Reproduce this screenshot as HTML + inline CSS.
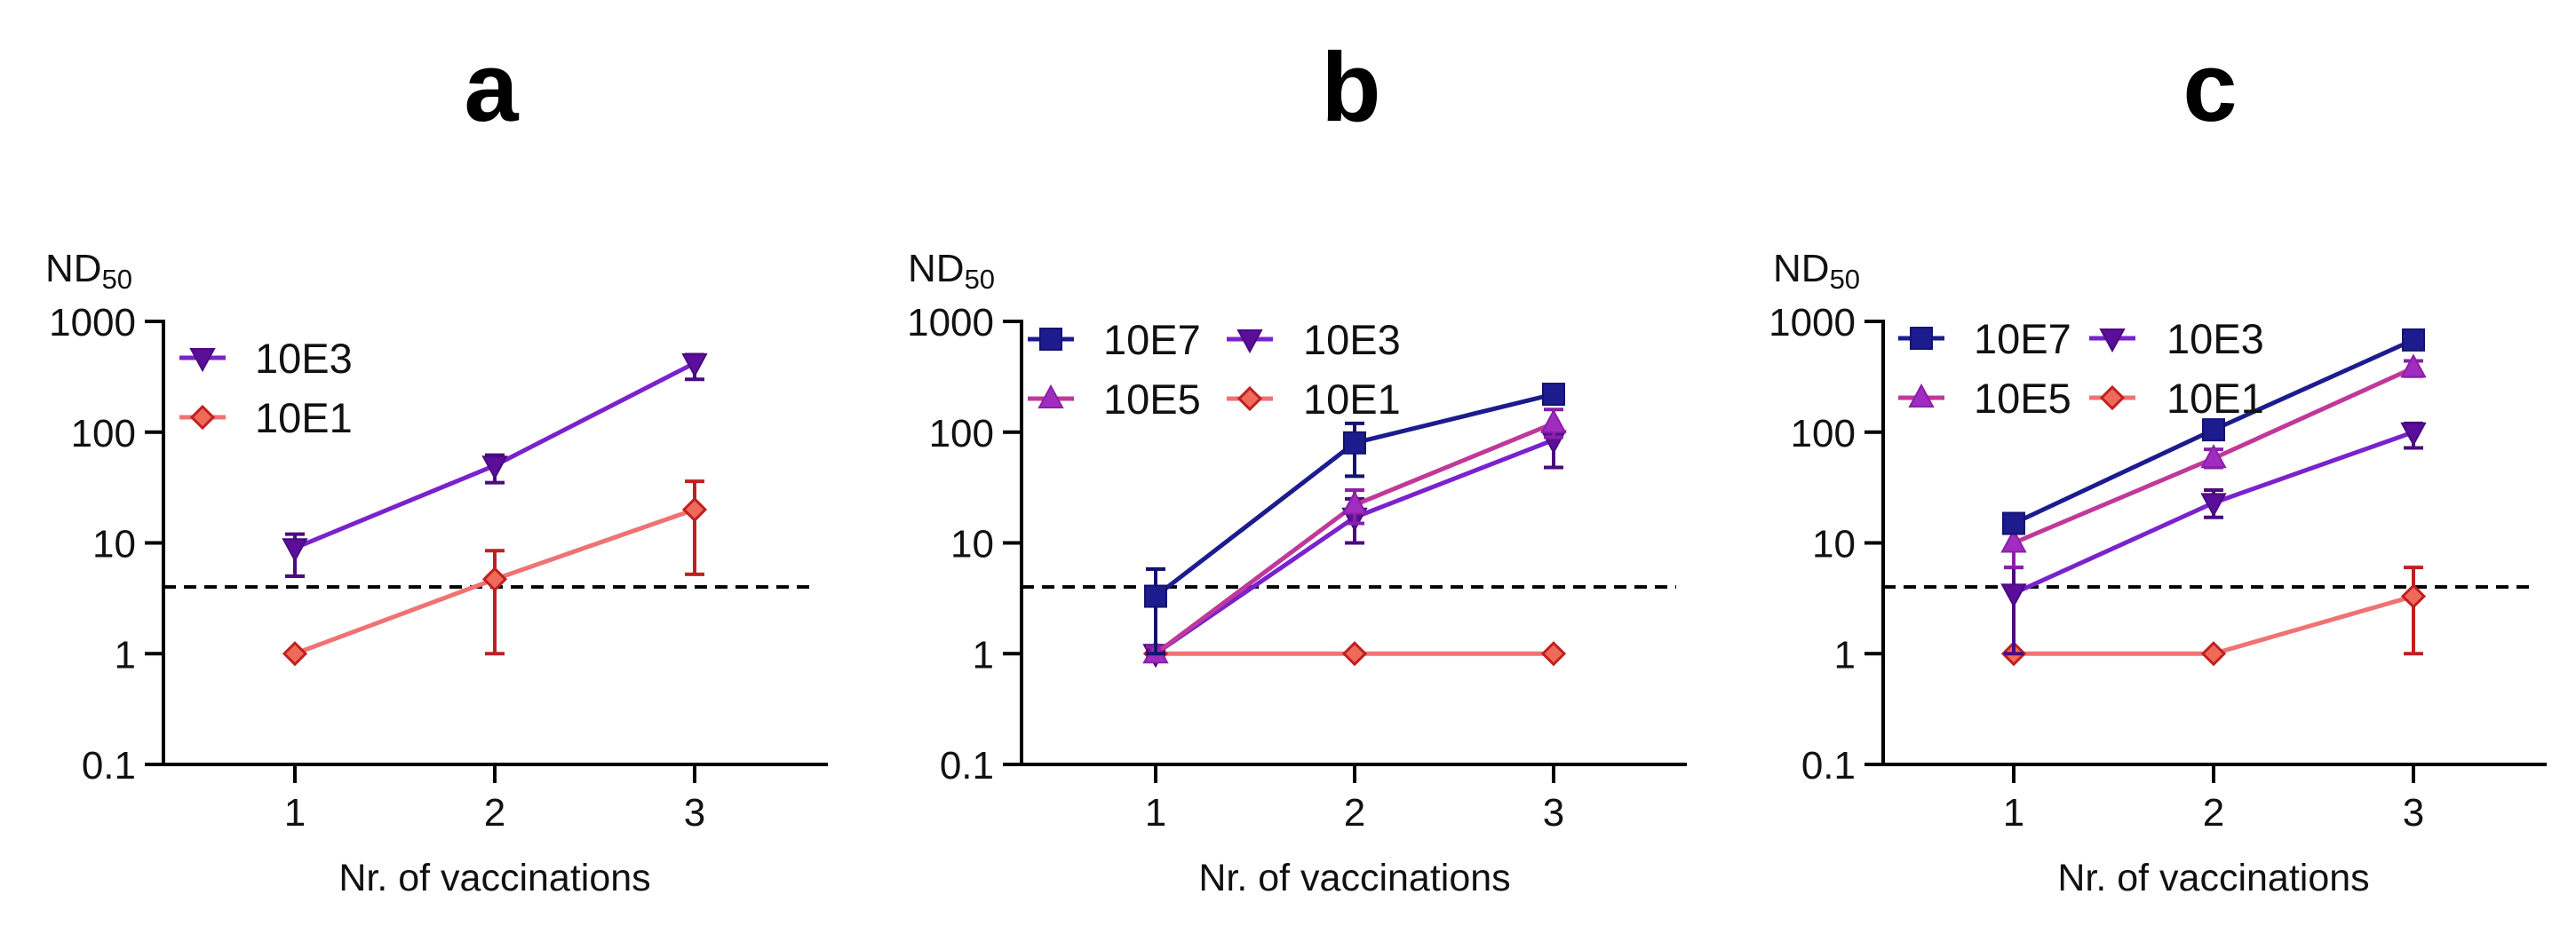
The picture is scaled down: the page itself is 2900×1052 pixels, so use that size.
<!DOCTYPE html>
<html><head><meta charset="utf-8"><style>
html,body{margin:0;padding:0;background:#fff;}
svg{display:block;font-family:"Liberation Sans",Arial,sans-serif;}
</style></head><body>
<svg id="fig" width="2900" height="1052" viewBox="0 0 2900 1052" xmlns="http://www.w3.org/2000/svg"></svg>
<script>
// ---- data ----
const categories = [1, 2, 3];
const yTickValues = [0.1, 1, 10, 100, 1000];
const yTickLabels = ["0.1", "1", "10", "100", "1000"];
const threshold = 4;
// panel a
const a_10E3 = [9, 50, 420];
const a_10E3_lo = [5, 35, 300];
const a_10E3_hi = [12, 62, 500];
const a_10E1 = [1, 4.7, 20];
const a_10E1_lo = [1, 1, 5.2];
const a_10E1_hi = [1, 8.5, 36];
// panel b
const b_10E7 = [3.3, 80, 220];
const b_10E7_lo = [1, 40, 200];
const b_10E7_hi = [5.8, 120, 250];
const b_10E5 = [1, 22, 120];
const b_10E5_lo = [0.85, 15, 90];
const b_10E5_hi = [1.15, 30, 160];
const b_10E3 = [1, 17, 85];
const b_10E3_lo = [0.9, 10, 48];
const b_10E3_hi = [1.1, 25, 100];
const b_10E1 = [1, 1, 1];
// panel c
const c_10E7 = [15, 105, 680];
const c_10E5 = [10, 58, 380];
const c_10E5_lo = [6, 48, 320];
const c_10E5_hi = [13, 70, 440];
const c_10E3 = [3.5, 23, 100];
const c_10E3_lo = [1, 17, 72];
const c_10E3_hi = [6, 30, 120];
const c_10E1 = [1, 1, 3.3];
const c_10E1_lo = [1, 1, 1];
const c_10E1_hi = [1, 1, 6];

const NS = "http://www.w3.org/2000/svg";
const svg = document.getElementById("fig");
function mk(tag, attrs, parent, text) {
  const e = document.createElementNS(NS, tag);
  for (const k in attrs) e.setAttribute(k, attrs[k]);
  if (text !== undefined) e.textContent = text;
  (parent || svg).appendChild(e);
  return e;
}
const STY = {
  "10E7": {line: "#1c1c8e", fill: "#1c1c8e", stroke: "#14146e", marker: "square"},
  "10E5": {line: "#c0399a", fill: "#a02cc0", stroke: "#8a1fa8", marker: "up"},
  "10E3": {line: "#7a22cc", fill: "#5a0e9a", stroke: "#4a0a80", marker: "down"},
  "10E1": {line: "#f07272", fill: "#f06a5a", stroke: "#c02020", marker: "diamond"}
};
function marker(g, type, x, y, s, name) {
  let e;
  if (type === "square") e = mk("rect", {x: x - 12, y: y - 12, width: 24, height: 24, fill: s.fill, stroke: s.stroke, "stroke-width": 2}, g);
  else if (type === "up") e = mk("polygon", {points: `${x},${y - 14} ${x + 13},${y + 10} ${x - 13},${y + 10}`, fill: s.fill, stroke: s.stroke, "stroke-width": 2}, g);
  else if (type === "down") e = mk("polygon", {points: `${x - 13},${y - 10} ${x + 13},${y - 10} ${x},${y + 14}`, fill: s.fill, stroke: s.stroke, "stroke-width": 2}, g);
  else e = mk("polygon", {points: `${x},${y - 12} ${x + 12},${y} ${x},${y + 12} ${x - 12},${y}`, fill: s.fill, stroke: s.stroke, "stroke-width": 3}, g);
  
  
}
function panel(cfg) {
  const g = mk("g", {});
  
  
  const ax = cfg.axisX, y0 = 861, y1000 = 362;
  const dec = (y0 - y1000) / 4;
  const ys = v => y0 - (Math.log10(v) + 1) * dec;
  const xs = c => cfg.tick1 + (c - 1) * cfg.step;
  const right = xs(3) + 150;
  const t = mk("text", {x: xs(2) - 4, y: 136, "font-size": 110, "font-weight": "bold", "text-anchor": "middle", fill: "#000"}, g, cfg.letter);
   
  const nd = mk("text", {x: cfg.ndX, y: 317, "font-size": 44, fill: "#111"}, g);
   
  mk("tspan", {}, nd, "ND");
  mk("tspan", {"font-size": 31, dy: 8}, nd, "50");
  const yl = mk("line", {x1: ax, y1: y1000 - 2, x2: ax, y2: y0 + 2, stroke: "#000", "stroke-width": 4}, g);
   
  const xl = mk("line", {x1: ax - 21, y1: y0, x2: right, y2: y0, stroke: "#000", "stroke-width": 4}, g);
   
  yTickValues.forEach((v, i) => {
    mk("line", {x1: ax - 21, y1: ys(v), x2: ax, y2: ys(v), stroke: "#000", "stroke-width": 4}, g);
    const tl = mk("text", {x: ax - 31, y: ys(v) + 16, "font-size": 44, "text-anchor": "end", fill: "#111"}, g, yTickLabels[i]);
     
  });
  categories.forEach(c => {
    mk("line", {x1: xs(c), y1: y0, x2: xs(c), y2: y0 + 21, stroke: "#000", "stroke-width": 4}, g);
    const tl = mk("text", {x: xs(c), y: 930, "font-size": 44, "text-anchor": "middle", fill: "#111"}, g, String(c));
     
  });
  const xt = mk("text", {x: xs(2), y: 1003, "font-size": 43, "text-anchor": "middle", fill: "#111"}, g, "Nr. of vaccinations");
   
  const dl = mk("line", {x1: ax, y1: ys(threshold), x2: right - 12, y2: ys(threshold), stroke: "#000", "stroke-width": 4, "stroke-dasharray": "14 9"}, g);
   
  cfg.series.forEach(s => {
    const st = STY[s.name];
    const sg = mk("g", {}, g);
    
    
    if (s.lo) categories.forEach((c, i) => {
      const x = xs(c);
      mk("line", {x1: x, y1: ys(s.lo[i]), x2: x, y2: ys(s.hi[i]), stroke: st.stroke, "stroke-width": 4}, sg);
      mk("line", {x1: x - 11, y1: ys(s.lo[i]), x2: x + 11, y2: ys(s.lo[i]), stroke: st.stroke, "stroke-width": 4}, sg);
      mk("line", {x1: x - 11, y1: ys(s.hi[i]), x2: x + 11, y2: ys(s.hi[i]), stroke: st.stroke, "stroke-width": 4}, sg);
    });
    const pts = categories.map((c, i) => xs(c) + "," + ys(s.vals[i])).join(" ");
    const pl = mk("polyline", {points: pts, fill: "none", stroke: st.line, "stroke-width": 5}, sg);
     
    categories.forEach((c, i) => marker(sg, st.marker, xs(c), ys(s.vals[i]), st, 'point-' + s.name));
  });
  cfg.legend.forEach(l => {
    const st = STY[l.name];
    const lg = mk("g", {}, g);
    
    
    mk("line", {x1: l.mx - 26, y1: l.y, x2: l.mx + 26, y2: l.y, stroke: st.line, "stroke-width": 5}, lg);
    marker(lg, st.marker, l.mx, l.y, st, 'legend-marker');
    mk("text", {x: l.tx, y: l.y + 17, "font-size": 47, fill: "#111"}, lg, l.name);
  });
}
panel({letter: "a", axisX: 184, tick1: 332, step: 225, ndX: 51,
  series: [
    {name: "10E1", vals: a_10E1, lo: a_10E1_lo, hi: a_10E1_hi},
    {name: "10E3", vals: a_10E3, lo: a_10E3_lo, hi: a_10E3_hi}],
  legend: [{name: "10E3", mx: 228, tx: 287, y: 403}, {name: "10E1", mx: 228, tx: 287, y: 470}]});
panel({letter: "b", axisX: 1150, tick1: 1301, step: 224, ndX: 1022,
  series: [
    {name: "10E1", vals: b_10E1},
    {name: "10E3", vals: b_10E3, lo: b_10E3_lo, hi: b_10E3_hi},
    {name: "10E5", vals: b_10E5, lo: b_10E5_lo, hi: b_10E5_hi},
    {name: "10E7", vals: b_10E7, lo: b_10E7_lo, hi: b_10E7_hi}],
  legend: [{name: "10E7", mx: 1183, tx: 1242, y: 382}, {name: "10E3", mx: 1407, tx: 1467, y: 382},
           {name: "10E5", mx: 1183, tx: 1242, y: 449}, {name: "10E1", mx: 1407, tx: 1467, y: 449}]});
panel({letter: "c", axisX: 2120, tick1: 2267, step: 225, ndX: 1996,
  series: [
    {name: "10E1", vals: c_10E1, lo: c_10E1_lo, hi: c_10E1_hi},
    {name: "10E3", vals: c_10E3, lo: c_10E3_lo, hi: c_10E3_hi},
    {name: "10E5", vals: c_10E5, lo: c_10E5_lo, hi: c_10E5_hi},
    {name: "10E7", vals: c_10E7}],
  legend: [{name: "10E7", mx: 2163, tx: 2222, y: 381}, {name: "10E3", mx: 2378, tx: 2439, y: 381},
           {name: "10E5", mx: 2163, tx: 2222, y: 448}, {name: "10E1", mx: 2378, tx: 2439, y: 448}]});
</script>
</body></html>
